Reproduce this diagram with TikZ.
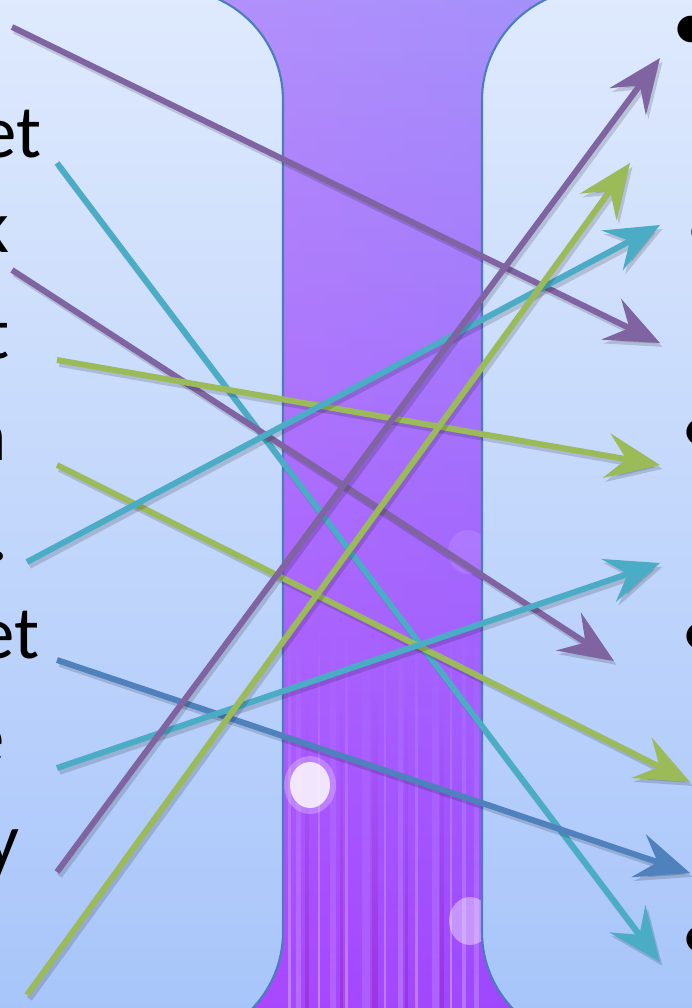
\documentclass[tikz,border=0pt]{standalone}
\usepackage{fontspec}
\setmainfont{Carlito}
\usepackage{tikz}
\usetikzlibrary{arrows.meta, positioning, fadings}

\definecolor{paneltop}{HTML}{DFEAFD}
\definecolor{panelbot}{HTML}{A6C4FA}
\definecolor{panelline}{HTML}{4A7EBB}
\definecolor{coltop}{HTML}{A48EFA}
\definecolor{colmid}{HTML}{A74EFF}
\definecolor{colbot}{HTML}{9A33FF}
\definecolor{vio}{HTML}{8064A2}
\definecolor{aqua}{HTML}{4BACC6}
\definecolor{lime}{HTML}{9BBB59}
\definecolor{steel}{HTML}{4F81BD}

\begin{document}
\begin{tikzpicture}[
    x=0.01cm, y=-0.01cm,
    font=\fontsize{21.3}{25}\selectfont,
    panel/.style={draw=panelline, line width=0.6pt, rounded corners=1.11cm, top color=paneltop, bottom color=panelbot},
    word/.style={anchor=base east, inner sep=0pt},
    dot/.style={anchor=mid west, inner sep=0pt},
    arrow/.style={-{Stealth[length=0.54cm, width=0.45cm, inset=0.2cm]}, line width=1.7pt},
    arrow_shadow/.style={arrow, draw=black, opacity=0.15, transform canvas={shift={(0.7pt,-1.1pt)}}},
]
\useasboundingbox (0,0) rectangle (692,1008);
\clip (0,0) rectangle (692,1008);

% Column
\shade[top color=coltop, middle color=colmid, bottom color=colbot] (150,0) rectangle (600,1008);
\shade[left color=magenta!40!white, right color=blue!40!white, opacity=0.2] (150,0) rectangle (600,1008);
\foreach \x/\w/\o in {288/3/0.3, 296/5/0.2, 318/2/0.35, 330/6/0.15, 345/3/0.3, 362/8/0.12, 384/2/0.3, 398/5/0.2, 415/3/0.3, 432/7/0.15, 450/2/0.35, 462/4/0.25, 474/5/0.2}
    \fill[white, opacity=\o, path fading=north] (\x,620) rectangle ++(\w,388);
\foreach \x/\w in {305/4, 340/3, 372/6, 405/3, 440/4}
    \fill[violet, opacity=0.25, path fading=north] (\x,700) rectangle ++(\w,308);
\fill[white, opacity=0.25] (310,785) ellipse [x radius=26, y radius=29];
\fill[white, opacity=0.8] (310,785) ellipse [x radius=20, y radius=23];
\fill[white, opacity=0.4] (470,921) ellipse [x radius=21, y radius=24];
\fill[white, opacity=0.1] (468,552) ellipse [x radius=20, y radius=22];

% Panels
\path[panel] (-200,-11) rectangle (283,1043);
\path[panel] (482,-11) rectangle (900,1043);

% Nodes
\node[word] (w1) at (42,157) {et};
\node[word] (w2) at (10,252) {k};
\node[word] (w3) at (10,358) {t};
\node[word] (w4) at (8,460) {n};
\node[word] (w5) at (9,560) {.};
\node[word] (w6) at (40,658) {et};
\node[word] (w7) at (5,762) {e};
\node[word] (w8) at (20,865) {y};

\node[dot] (b1) at (672,42) {•};
\node[dot] (b2) at (686,245) {•};
\node[dot] (b3) at (681,445) {•};
\node[dot] (b4) at (681,649) {•};
\node[dot] (b5) at (681,952) {•};

\coordinate (s1) at (12,27);   \coordinate (t1) at (660,343);
\coordinate (s2) at (57,163);  \coordinate (t2) at (660,962);
\coordinate (s3) at (12,270);  \coordinate (t3) at (614,661);
\coordinate (s4) at (57,360);  \coordinate (t4) at (660,465);
\coordinate (s5) at (57,465);  \coordinate (t5) at (690,782);
\coordinate (s6) at (27,562);  \coordinate (t6) at (660,225);
\coordinate (s7) at (57,660);  \coordinate (t7) at (690,873);
\coordinate (s8) at (57,768);  \coordinate (t8) at (660,563);
\coordinate (s9) at (57,872);  \coordinate (t9) at (660,58);
\coordinate (s10) at (27,995); \coordinate (t10) at (630,163);

% Paths
\foreach \a/\b/\c in {s1/t1/vio, s2/t2/aqua, s3/t3/vio, s4/t4/lime, s5/t5/lime, s6/t6/aqua, s7/t7/steel, s8/t8/aqua, s9/t9/vio, s10/t10/lime} {
    \draw[arrow_shadow] (\a) -- (\b);
    \draw[arrow, draw=\c] (\a) -- (\b);
}

\end{tikzpicture}
\end{document}
